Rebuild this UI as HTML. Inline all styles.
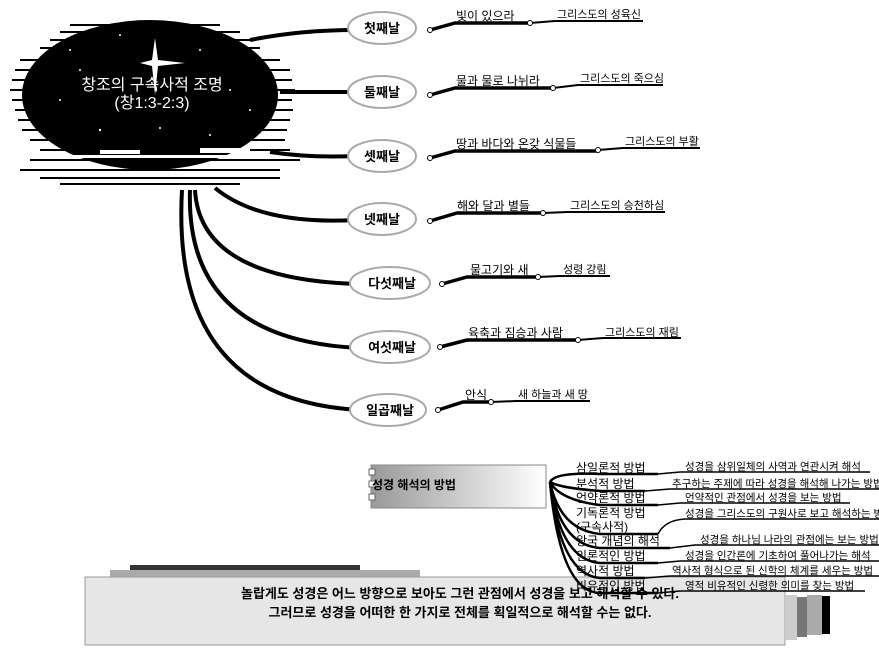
<!DOCTYPE html>
<html><head><meta charset="utf-8"><style>
body{margin:0;background:#fff;width:879px;height:658px;overflow:hidden}
svg{display:block}
text{font-family:"Liberation Sans","Noto Sans CJK KR",sans-serif}
</style></head><body>
<svg width="879" height="658" viewBox="0 0 879 658">
<defs>
<linearGradient id="g1" x1="0" x2="1" y1="0" y2="0"><stop offset="0" stop-color="#999"/><stop offset="1" stop-color="#fff"/></linearGradient>
</defs>
<!-- blob -->
<ellipse cx="150" cy="95" rx="128" ry="75" fill="#000"/>
<g stroke="#000" stroke-width="2">
<path d="M20 60h260M15 70h275M12 80h280M10 90h285M12 100h280M15 110h278M18 120h272M22 130h265M30 140h255M40 150h250M30 160h270M20 170h260M40 178h240M60 184h180M70 25h150M60 32h180M50 40h200M40 48h220"/>
</g>
<g fill="#fff">
<circle cx="70" cy="50" r="1"/><circle cx="120" cy="35" r="1"/><circle cx="200" cy="50" r="1"/><circle cx="230" cy="90" r="1"/><circle cx="60" cy="100" r="1"/><circle cx="100" cy="130" r="1.2"/><circle cx="160" cy="128" r="1"/><circle cx="210" cy="135" r="1"/><circle cx="80" cy="70" r="1"/><circle cx="250" cy="110" r="1"/>
<path d="M155 38 L158 60 L185 63 L158 66 L155 95 L152 66 L140 63 L152 60Z"/>
<rect x="30" y="155" width="240" height="3"/><rect x="100" y="150" width="40" height="4"/><rect x="200" y="148" width="50" height="5"/>
</g>
<text x="152" y="90" fill="#fff" font-size="16" text-anchor="middle">창조의 구속사적 조명</text>
<text x="152" y="108" fill="#fff" font-size="16" text-anchor="middle">(창1:3-2:3)</text>
<!-- connectors -->
<g stroke="#000" stroke-width="4" fill="none">
<path d="M250 40 Q300 30 355 30"/>
<path d="M280 92 L355 92"/>
<path d="M270 152 Q310 158 355 156"/>
<path d="M215 188 Q260 225 355 220"/>
<path d="M195 190 Q200 280 360 284"/>
<path d="M190 190 Q185 340 360 348"/>
<path d="M182 190 Q170 400 360 410"/>
</g>
<!-- day nodes -->
<g fill="#fff" stroke="#aaa" stroke-width="2">
<ellipse cx="382" cy="28" rx="34" ry="16"/>
<ellipse cx="382" cy="92" rx="34" ry="16"/>
<ellipse cx="382" cy="156" rx="34" ry="16"/>
<ellipse cx="382" cy="219" rx="34" ry="16"/>
<ellipse cx="390" cy="283" rx="40" ry="16"/>
<ellipse cx="390" cy="347" rx="40" ry="16"/>
<ellipse cx="388" cy="410" rx="38" ry="16"/>
</g>
<g font-size="13" font-weight="bold" text-anchor="middle">
<text x="382" y="33">첫째날</text><text x="382" y="97">둘째날</text><text x="382" y="161">셋째날</text><text x="382" y="224">넷째날</text><text x="392" y="288">다섯째날</text><text x="392" y="352">여섯째날</text><text x="390" y="415">일곱째날</text>
</g>
<!-- branches -->
<g stroke="#000" fill="none">
<g stroke-width="3.5">
<path d="M430 30 L455 23 H530"/><path d="M430 95 L455 88 H553"/><path d="M430 158 L455 151 H598"/><path d="M430 221 L457 213 H543"/><path d="M442 284 L467 277 H538"/><path d="M440 347 L467 340 H578"/><path d="M438 410 L463 402 H491"/>
</g>
<g stroke-width="2">
<path d="M530 23 L555 21 H643"/><path d="M553 88 L578 85 H663"/><path d="M598 150 L623 148 H700"/><path d="M543 213 L568 212 H665"/><path d="M538 277 L560 276 H610"/><path d="M578 340 L603 338 H681"/><path d="M491 402 L516 401 H590"/>
</g>
</g>
<g fill="#fff" stroke="#000" stroke-width="1">
<circle cx="430" cy="30" r="2.5"/><circle cx="530" cy="23" r="2.5"/><circle cx="430" cy="95" r="2.5"/><circle cx="553" cy="88" r="2.5"/><circle cx="430" cy="158" r="2.5"/><circle cx="598" cy="150" r="2.5"/><circle cx="430" cy="221" r="2.5"/><circle cx="543" cy="213" r="2.5"/><circle cx="442" cy="284" r="2.5"/><circle cx="538" cy="277" r="2.5"/><circle cx="440" cy="347" r="2.5"/><circle cx="578" cy="340" r="2.5"/><circle cx="438" cy="410" r="2.5"/><circle cx="491" cy="402" r="2.5"/>
</g>
<g font-size="12">
<text x="456" y="20">빛이 있으라</text><text x="557" y="18" font-size="11">그리스도의 성육신</text>
<text x="456" y="85">물과 물로 나뉘라</text><text x="580" y="82" font-size="11">그리스도의 죽으심</text>
<text x="456" y="148">땅과 바다와 온갖 식물들</text><text x="625" y="145" font-size="11">그리스도의 부활</text>
<text x="457" y="210">해와 달과 별들</text><text x="570" y="209" font-size="11">그리스도의 승천하심</text>
<text x="470" y="274">물고기와 새</text><text x="563" y="273" font-size="11">성령 강림</text>
<text x="468" y="337">육축과 짐승과 사람</text><text x="605" y="336" font-size="11">그리스도의 재림</text>
<text x="465" y="399">안식</text><text x="518" y="398" font-size="11">새 하늘과 새 땅</text>
</g>
<!-- bottom note -->
<rect x="130" y="565" width="230" height="8" fill="#333"/>
<rect x="110" y="570" width="310" height="8" fill="#aaa"/>
<rect x="85" y="577" width="700" height="68" fill="#e6e6e6" stroke="#999"/>
<rect x="785" y="595" width="12" height="45" fill="#ccc"/>
<rect x="797" y="597" width="10" height="40" fill="#777"/>
<rect x="807" y="595" width="15" height="40" fill="#aaa"/>
<rect x="822" y="596" width="8" height="38" fill="#000"/>
<g font-size="13" font-weight="bold" text-anchor="middle">
<text x="460" y="598">놀랍게도 성경은 어느 방향으로 보아도 그런 관점에서 성경을 보고 해석할 수 있다.</text>
<text x="460" y="617">그러므로 성경을 어떠한 한 가지로 전체를 획일적으로 해석할 수는 없다.</text>
</g>
<!-- methods -->
<rect x="371" y="465" width="175" height="43" fill="url(#g1)" stroke="#888"/>
<g fill="#fff" stroke="#666"><rect x="369" y="469" width="6" height="6"/><rect x="369" y="481" width="6" height="6"/><rect x="369" y="494" width="6" height="6"/></g>
<text x="372" y="489" font-size="12" font-weight="bold">성경 해석의 방법</text>
<g stroke="#000" stroke-width="2.5" fill="none">
<path d="M550 482 Q555 472 600 474 H658"/>
<path d="M550 482 Q560 488 600 491 H645"/>
<path d="M550 482 Q560 500 600 505 H658"/>
<path d="M550 482 Q560 530 600 534 H658"/>
<path d="M550 482 Q560 545 600 548 H670"/>
<path d="M550 482 Q560 560 600 563 H658"/>
<path d="M550 482 Q560 575 600 578 H645"/>
<path d="M550 482 Q560 592 600 593 H658"/>
</g>
<g stroke="#000" stroke-width="1.5" fill="none">
<path d="M658 474 L680 472 H870"/><path d="M645 491 L670 489 H879"/><path d="M658 505 L680 503 H850"/><path d="M658 534 Q665 520 685 519 H879"/><path d="M670 548 L695 545 H879"/><path d="M658 563 L680 561 H879"/><path d="M645 578 L670 576 H879"/><path d="M658 593 L680 591 H865"/>
</g>
<g font-size="12">
<text x="576" y="472">삼일론적 방법</text><text x="576" y="488">분석적 방법</text><text x="576" y="502">언약론적 방법</text><text x="576" y="517">기독론적 방법</text><text x="576" y="531">(구속사적)</text><text x="576" y="545">왕국 개념의 해석</text><text x="576" y="560">인론적인 방법</text><text x="576" y="575">역사적 방법</text><text x="576" y="590">비유적인 방법</text>
</g>
<g font-size="10.5">
<text x="685" y="470">성경을 삼위일체의 사역과 연관시켜 해석</text>
<text x="672" y="487">추구하는 주제에 따라 성경을 해석해 나가는 방법</text>
<text x="685" y="501">언약적인 관점에서 성경을 보는 방법</text>
<text x="685" y="517">성경을 그리스도의 구원사로 보고 해석하는 방법</text>
<text x="700" y="543">성경을 하나님 나라의 관점에는 보는 방법</text>
<text x="685" y="559">성경을 인간론에 기초하여 풀어나가는 해석</text>
<text x="672" y="574">역사적 형식으로 된 신학의 체계를 세우는 방법</text>
<text x="685" y="589">영적 비유적인 신령한 의미를 찾는 방법</text>
</g>
</svg>
</body></html>
